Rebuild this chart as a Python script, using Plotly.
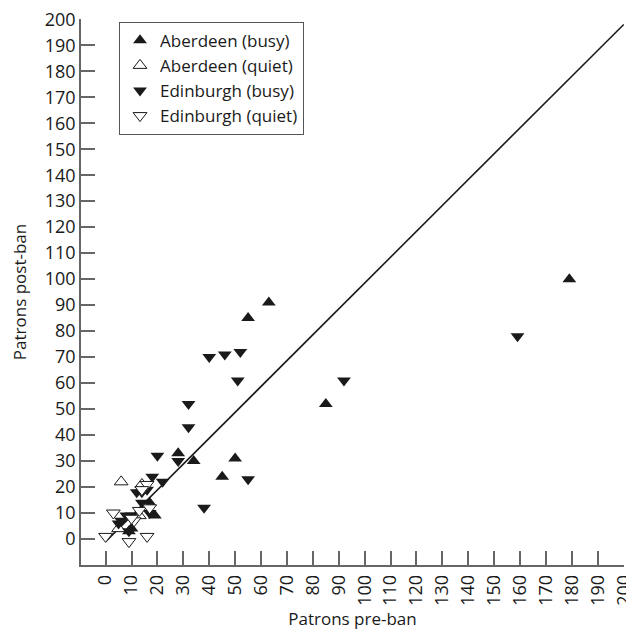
import plotly.graph_objects as go

# Data (pre-ban, post-ban)
aber_busy_x = [179, 85, 63, 55, 28, 34, 50, 45, 17, 19, 9, 10]
aber_busy_y = [100, 52, 91, 85, 33, 30, 31, 24, 14, 9, 3, 4]

aber_quiet_x = [6, 14, 5, 13, 15]
aber_quiet_y = [22, 21, 4, 9, 12]

edin_busy_x = [159, 92, 40, 46, 52, 51, 32, 32, 28, 20, 18, 22, 12, 14, 16, 14, 17, 8, 6, 5, 9, 38, 55, 10]
edin_busy_y = [78, 61, 70, 71, 72, 61, 52, 43, 30, 32, 24, 22, 18, 18, 19, 14, 10, 9, 7, 6, 3, 12, 23, 9]

edin_quiet_x = [3, 0, 9, 16, 11, 16, 13, 10, 17, 14]
edin_quiet_y = [10, 1, -1, 1, 7, 21, 11, 8, 12, 19]

fit_x = [0, 200]
fit_y = [-1, 198]

tick_vals = list(range(0, 201, 10))
tick_text = [str(v) for v in tick_vals]

FONT = "Open Sans"
INK = "#1a1a1a"
AXC = "#666666"

fig = go.Figure()

fig.add_trace(go.Scatter(x=fit_x, y=fit_y, mode="lines",
                         line=dict(color=INK, width=1.6), showlegend=False,
                         hoverinfo="skip"))

def add(xs, ys, name, symbol, filled):
    fig.add_trace(go.Scatter(
        x=xs, y=ys, mode="markers", name=name, cliponaxis=False,
        marker=dict(symbol=symbol, size=12,
                    color=INK if filled else "white",
                    line=dict(color=INK, width=0 if filled else 1))))

add(aber_busy_x, aber_busy_y, "Aberdeen (busy)", "triangle-up", True)
add(aber_quiet_x, aber_quiet_y, "Aberdeen (quiet)", "triangle-up", False)
add(edin_busy_x, edin_busy_y, "Edinburgh (busy)", "triangle-down", True)
add(edin_quiet_x, edin_quiet_y, "Edinburgh (quiet)", "triangle-down", False)

axis_common = dict(
    showgrid=False, zeroline=False, showline=True, linecolor=AXC, linewidth=1.5,
    ticks="inside", ticklen=14, tickwidth=1.5, tickcolor=AXC,
    tickvals=tick_vals, ticktext=tick_text,
    tickfont=dict(family=FONT, size=18, color=INK),
    ticklabeloverflow="allow",
    automargin=False,
)

fig.update_xaxes(range=[-9.5, 200.1], tickangle=-90, ticklabelstandoff=1,
                 title=dict(text="Patrons pre-ban", font=dict(family=FONT, size=17, color=INK), standoff=8),
                 **axis_common)
fig.update_yaxes(range=[-10, 200.1],
                 title=dict(text="Patrons post-ban", font=dict(family=FONT, size=17, color=INK), standoff=14),
                 **axis_common)

# page body adds an 8px margin, so the figure is sized to fill the rest of the window
fig.update_layout(
    width=626, height=628,
    margin=dict(l=73, r=10, t=11, b=71),
    paper_bgcolor="white", plot_bgcolor="white",
    font=dict(family=FONT, size=17, color=INK),
    showlegend=True,
    legend=dict(x=0.07, y=0.995, xanchor="left", yanchor="top",
                bgcolor="white", bordercolor="#555555", borderwidth=1,
                font=dict(family=FONT, size=17, color=INK),
                itemwidth=30, tracegroupgap=0),
)

fig.write_html("out.html")
